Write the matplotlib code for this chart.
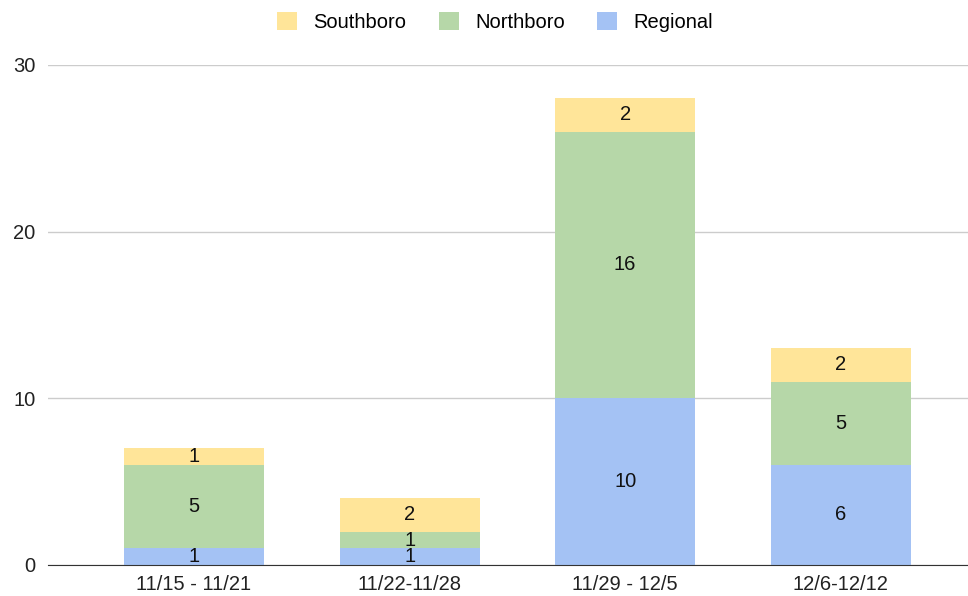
import matplotlib.pyplot as plt
import numpy as np

plt.rcParams['font.family'] = ['Liberation Sans', 'DejaVu Sans']

weeks = ["11/15 - 11/21", "11/22-11/28", "11/29 - 12/5", "12/6-12/12"]
regional = [1, 1, 10, 6]
northboro = [5, 1, 16, 5]
southboro = [1, 2, 2, 2]

c_reg = "#a4c2f4"
c_nor = "#b6d7a8"
c_sou = "#ffe599"

fig = plt.figure(figsize=(9.68, 5.96), dpi=100)
ax = fig.add_axes([48/968, 1-565/596, 1-48/968, (565-65)/596])

x = np.arange(len(weeks))
w = 0.65
b1 = ax.bar(x, regional, w, color=c_reg, label="Regional", zorder=2)
b2 = ax.bar(x, northboro, w, bottom=regional, color=c_nor, label="Northboro", zorder=2)
bot3 = np.array(regional) + np.array(northboro)
b3 = ax.bar(x, southboro, w, bottom=bot3, color=c_sou, label="Southboro", zorder=2)
for b in (b1, b2, b3):
    ax.bar_label(b, label_type='center', fontsize=14.5, color="#111111")

ax.set_xlim(-0.677, 3.59)
ax.set_ylim(0, 30)
ax.set_yticks([0, 10, 20, 30])
ax.set_xticks(x)
ax.set_xticklabels(weeks)
ax.grid(axis='y', color="#cccccc", lw=1, zorder=0)
for s in ['top', 'right', 'left']:
    ax.spines[s].set_visible(False)
ax.spines['bottom'].set_color("#333333")
ax.spines['bottom'].set_zorder(3)
ax.tick_params(axis='both', length=0, labelsize=14.5, colors="#222222")
ax.tick_params(axis='y', pad=9)
ax.tick_params(axis='x', pad=7)

h, l = ax.get_legend_handles_labels()
fig.legend(h[::-1], l[::-1], loc='center', bbox_to_anchor=(495/968, 1-22/596), ncol=3,
           frameon=False, fontsize=14.5, handlelength=1.0, handleheight=1.0,
           columnspacing=1.6, handletextpad=0.8)

fig.savefig("out.png", dpi=100)
